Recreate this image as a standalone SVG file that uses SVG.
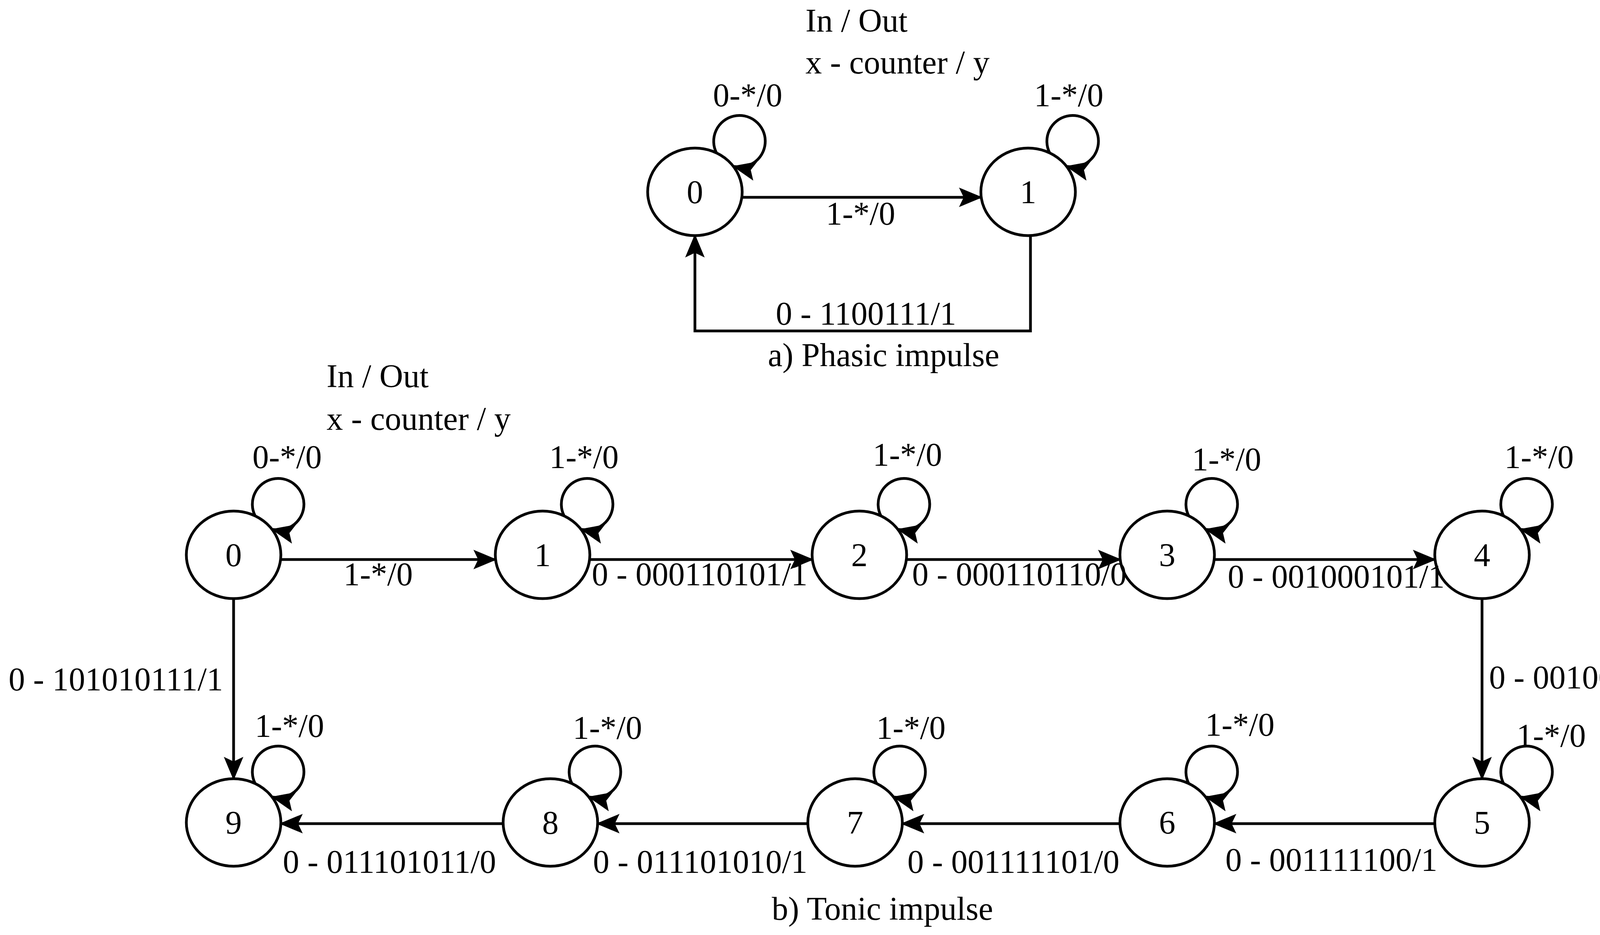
<svg xmlns="http://www.w3.org/2000/svg" width="4400" height="2393" viewBox="0 0 4400 2393">
<style>
text{font-family:"Liberation Serif","Times New Roman",serif;font-size:84px;fill:#000}
.m{text-anchor:middle}
.n ellipse{fill:#fff;stroke:#000;stroke-width:7}
.c path{fill:none;stroke:#000;stroke-width:7}
</style>
<defs>
<marker id="ah" markerUnits="userSpaceOnUse" markerWidth="60" markerHeight="50" viewBox="0 0 60 50" refX="56" refY="25" orient="auto">
<path d="M0,0 L60,25 L0,50 L12,25 Z" fill="#000"/>
</marker>
</defs>
<rect width="4400" height="2393" fill="#fff"/>
<g id="connectors" class="c">
<path d="M1900,505 H2511" marker-end="url(#ah)"/>
<path d="M2638,603 V847 H1779 V603" marker-end="url(#ah)"/>
<path d="M719,1432 H1268" marker-end="url(#ah)"/>
<path d="M1510,1432 H2079" marker-end="url(#ah)"/>
<path d="M2321,1432 H2867" marker-end="url(#ah)"/>
<path d="M3109,1432 H3673" marker-end="url(#ah)"/>
<path d="M3794,1532 V1993" marker-end="url(#ah)"/>
<path d="M598,1532 V1993" marker-end="url(#ah)"/>
<path d="M3673,2108 H3109" marker-end="url(#ah)"/>
<path d="M2867,2108 H2310" marker-end="url(#ah)"/>
<path d="M2068,2108 H1530" marker-end="url(#ah)"/>
<path d="M1288,2108 H719" marker-end="url(#ah)"/>
<path transform="translate(1779,491)" d="M55,-100 A66 66 0 1 1 100,-65" marker-end="url(#ah)"/>
<path transform="translate(2632,491)" d="M55,-100 A66 66 0 1 1 100,-65" marker-end="url(#ah)"/>
<path transform="translate(598,1420)" d="M55,-100 A66 66 0 1 1 100,-65" marker-end="url(#ah)"/>
<path transform="translate(1389,1420)" d="M55,-100 A66 66 0 1 1 100,-65" marker-end="url(#ah)"/>
<path transform="translate(2200,1420)" d="M55,-100 A66 66 0 1 1 100,-65" marker-end="url(#ah)"/>
<path transform="translate(2988,1420)" d="M55,-100 A66 66 0 1 1 100,-65" marker-end="url(#ah)"/>
<path transform="translate(3794,1420)" d="M55,-100 A66 66 0 1 1 100,-65" marker-end="url(#ah)"/>
<path transform="translate(598,2105)" d="M55,-100 A66 66 0 1 1 100,-65" marker-end="url(#ah)"/>
<path transform="translate(1409,2105)" d="M55,-100 A66 66 0 1 1 100,-65" marker-end="url(#ah)"/>
<path transform="translate(2189,2105)" d="M55,-100 A66 66 0 1 1 100,-65" marker-end="url(#ah)"/>
<path transform="translate(2988,2105)" d="M55,-100 A66 66 0 1 1 100,-65" marker-end="url(#ah)"/>
<path transform="translate(3794,2105)" d="M55,-100 A66 66 0 1 1 100,-65" marker-end="url(#ah)"/>
</g>
<g id="a0" class="n"><ellipse cx="1779" cy="491" rx="121" ry="112"/><text class="m" x="1779" y="520">0</text></g>
<g id="a1" class="n"><ellipse cx="2632" cy="491" rx="121" ry="112"/><text class="m" x="2632" y="520">1</text></g>
<g id="b0" class="n"><ellipse cx="598" cy="1420" rx="121" ry="112"/><text class="m" x="598" y="1449">0</text></g>
<g id="b1" class="n"><ellipse cx="1389" cy="1420" rx="121" ry="112"/><text class="m" x="1389" y="1449">1</text></g>
<g id="b2" class="n"><ellipse cx="2200" cy="1420" rx="121" ry="112"/><text class="m" x="2200" y="1449">2</text></g>
<g id="b3" class="n"><ellipse cx="2988" cy="1420" rx="121" ry="112"/><text class="m" x="2988" y="1449">3</text></g>
<g id="b4" class="n"><ellipse cx="3794" cy="1420" rx="121" ry="112"/><text class="m" x="3794" y="1449">4</text></g>
<g id="b9" class="n"><ellipse cx="598" cy="2105" rx="121" ry="112"/><text class="m" x="598" y="2134">9</text></g>
<g id="b8" class="n"><ellipse cx="1409" cy="2105" rx="121" ry="112"/><text class="m" x="1409" y="2134">8</text></g>
<g id="b7" class="n"><ellipse cx="2189" cy="2105" rx="121" ry="112"/><text class="m" x="2189" y="2134">7</text></g>
<g id="b6" class="n"><ellipse cx="2988" cy="2105" rx="121" ry="112"/><text class="m" x="2988" y="2134">6</text></g>
<g id="b5" class="n"><ellipse cx="3794" cy="2105" rx="121" ry="112"/><text class="m" x="3794" y="2134">5</text></g>
<g id="labels">
<text x="2062" y="81">In / Out</text>
<text x="2062" y="188">x - counter / y</text>
<text class="m" x="1914" y="272">0-*/0</text>
<text class="m" x="2736" y="272">1-*/0</text>
<text class="m" x="2203" y="575">1-*/0</text>
<text class="m" x="2217" y="831">0 - 1100111/1</text>
<text class="m" x="2262" y="937">a) Phasic impulse</text>
<text x="836" y="991">In / Out</text>
<text x="836" y="1100">x - counter / y</text>
<text class="m" x="735" y="1198">0-*/0</text>
<text class="m" x="1495" y="1198">1-*/0</text>
<text class="m" x="2323" y="1192">1-*/0</text>
<text class="m" x="3140" y="1204">1-*/0</text>
<text class="m" x="3940" y="1198">1-*/0</text>
<text class="m" x="968" y="1498">1-*/0</text>
<text x="1515" y="1498">0 - 000110101/1</text>
<text x="2335" y="1498">0 - 000110110/0</text>
<text x="3143" y="1504">0 - 001000101/1</text>
<text x="3812" y="1762">0 - 001000110/0</text>
<text x="22" y="1767">0 - 101010111/1</text>
<text class="m" x="741" y="1886">1-*/0</text>
<text class="m" x="1555" y="1891">1-*/0</text>
<text class="m" x="2332" y="1891">1-*/0</text>
<text class="m" x="3174" y="1883">1-*/0</text>
<text class="m" x="3971" y="1911">1-*/0</text>
<text x="724" y="2234">0 - 011101011/0</text>
<text x="1518" y="2234">0 - 011101010/1</text>
<text x="2323" y="2234">0 - 001111101/0</text>
<text x="3137" y="2229">0 - 001111100/1</text>
<text class="m" x="2259" y="2354">b) Tonic impulse</text>
</g>
</svg>
